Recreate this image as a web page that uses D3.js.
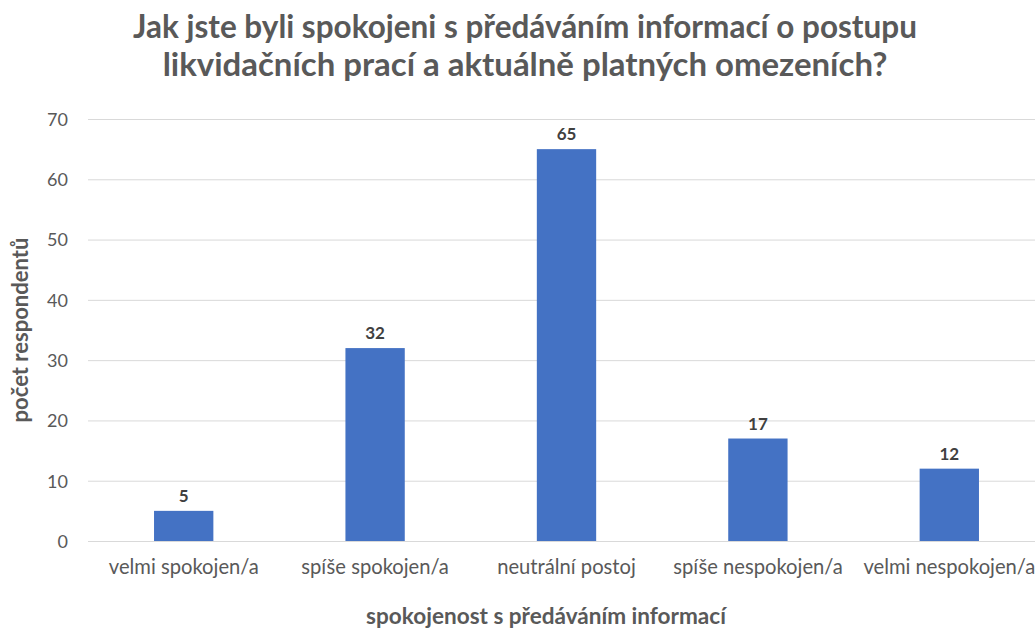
<!DOCTYPE html>
<html><head><meta charset="utf-8">
<script src="https://cdn.jsdelivr.net/npm/d3@7"></script>
<style>body{margin:0;background:#fff;} svg{display:block;font-family:Lato, "Open Sans", sans-serif;}</style>
</head><body>
<script>
const categories = ["velmi spokojen/a","spíše spokojen/a","neutrální postoj","spíše nespokojen/a","velmi nespokojen/a"];
const values = [5, 32, 65, 17, 12];
const yTicks = [0,10,20,30,40,50,60,70];
const titleLines = ["Jak jste byli spokojeni s předáváním informací o postupu","likvidačních prací a aktuálně platných omezeních?"];
const yTitle = "počet respondentů";
const xTitle = "spokojenost s předáváním informací";

const W = 1035, H = 628;
const svg = d3.select("body").append("svg").attr("width", W).attr("height", H);
const plot = {left: 88, right: 1045, top: 119, bottom: 541};
const x = d3.scaleBand().domain(categories).range([plot.left, plot.right]).paddingInner(0.69).paddingOuter(0.345);
const y = d3.scaleLinear().domain([0,70]).range([plot.bottom, plot.top]);

function fit(sel, target){
  const n = sel.node(); const fs = parseFloat(sel.attr("font-size"));
  const w = n.getComputedTextLength();
  sel.attr("font-size", (fs*target/w).toFixed(2));
}

// gridlines
svg.append("g").selectAll("line").data(yTicks).join("line")
  .attr("x1", plot.left).attr("x2", W).attr("y1", d=>y(d)+0.5).attr("y2", d=>y(d)+0.5)
  .attr("stroke", "#d9d9d9").attr("stroke-width", 1);

// y axis labels
const yAxis = svg.append("g").attr("transform", `translate(${plot.left-20},0)`)
  .call(d3.axisLeft(y).tickValues(yTicks).tickSize(0).tickPadding(0));
yAxis.select(".domain").remove();
yAxis.selectAll("text").attr("font-size", 18).attr("fill", "#595959").attr("font-family", "Lato").attr("dy", "0.35em");

// bars
svg.append("g").selectAll("rect").data(values).join("rect")
  .attr("x", (d,i)=>x(categories[i])).attr("width", x.bandwidth())
  .attr("y", d=>y(d)).attr("height", d=>y(0)-y(d)).attr("fill", "#4472C4");

// data labels
svg.append("g").selectAll("text").data(values).join("text")
  .attr("x", (d,i)=>x(categories[i])+x.bandwidth()/2).attr("y", d=>y(d)-9)
  .attr("text-anchor", "middle").attr("font-size", 17).attr("font-weight", "bold").attr("fill", "#404040")
  .text(d=>d);

// x axis labels
const xAxis = svg.append("g").attr("transform", `translate(0,${plot.bottom})`)
  .call(d3.axisBottom(x).tickSize(0).tickPadding(0));
xAxis.select(".domain").remove();
const xl = xAxis.selectAll("text").attr("font-size", 16).attr("fill", "#595959").attr("font-family", "Lato").attr("dy", null).attr("y", 33);
const w0 = xl.nodes()[0].getComputedTextLength();
xl.attr("font-size", (16*150/w0).toFixed(2));

// title
titleLines.forEach((t,i)=>{
  const s = svg.append("text").attr("x", 525).attr("y", 38 + i*38).attr("text-anchor","middle")
    .attr("font-size", 26).attr("font-weight","bold").attr("fill","#595959").text(t);
  fit(s, i===0 ? 784 : 725);
});

// axis titles
const yt = svg.append("text").attr("transform", "translate(28,330) rotate(-90)").attr("text-anchor","middle")
  .attr("font-size", 16).attr("font-weight","bold").attr("fill","#595959").text(yTitle);
fit(yt, 185);
const xt = svg.append("text").attr("x", 546).attr("y", 624).attr("text-anchor","middle")
  .attr("font-size", 16).attr("font-weight","bold").attr("fill","#595959").text(xTitle);
fit(xt, 360);
</script>
</body></html>
